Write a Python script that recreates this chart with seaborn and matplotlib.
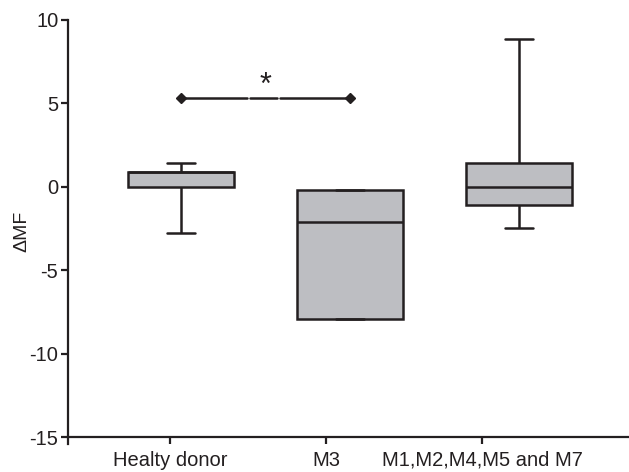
import seaborn as sns
import pandas as pd
import matplotlib.pyplot as plt

# group labels and the five-number values (min, q1, median, q3, max)
groups = ["Healty donor", "M3", "M1,M2,M4,M5 and M7"]
healthy = [-2.75, 0.0, 0.9, 0.9, 1.45]
m3 = [-7.9, -7.9, -2.1, -0.2, -0.2]
others = [-2.5, -1.1, 0.0, 1.45, 8.85]
yticks = [-15, -10, -5, 0, 5, 10]
bracket_y = 5.35

df = pd.DataFrame({
    "group": [groups[0]] * len(healthy) + [groups[1]] * len(m3) + [groups[2]] * len(others),
    "dmf": healthy + m3 + others,
})

sns.set_style("ticks")
plt.rcParams["font.family"] = ["Liberation Sans", "DejaVu Sans"]
plt.rcParams["axes.unicode_minus"] = False
ink = "#231F20"

fig = plt.figure(figsize=(6.29, 4.72), dpi=100)
ax = fig.add_axes([68 / 629, 0.06, 1 - 68 / 629, 0.8977])

sns.boxplot(data=df, x="group", y="dmf", order=groups, whis=(0, 100),
            width=0.63, color="#BDBEC2", linecolor=ink, linewidth=1.8,
            saturation=1, showfliers=False, capwidths=0.17, ax=ax)

# significance bracket between the first two groups
x0, x1 = 0, 1
mid = (x0 + x1) / 2
ax.plot([x0, mid - 0.11], [bracket_y, bracket_y], color=ink, lw=1.8)
ax.plot([mid - 0.095, mid + 0.07], [bracket_y, bracket_y], color=ink, lw=1.8)
ax.plot([mid + 0.085, x1], [bracket_y, bracket_y], color=ink, lw=1.8)
ax.plot([x0, x1], [bracket_y, bracket_y], ls="none", marker="D", ms=5, color=ink)
ax.text(mid, bracket_y - 0.2, "*", ha="center", va="bottom", fontsize=22, color=ink)

ax.set_xlim(-0.669, 2.65)
ax.set_ylim(-15.4, 10)
ax.set_yticks(yticks)
ax.set_xticks([-0.065, 0.858, 1.78], labels=groups)
sns.despine(ax=ax)
ax.spines["bottom"].set_position(("data", -15))
ax.spines["left"].set_bounds(-15.4, 10)
for side in ["left", "bottom"]:
    ax.spines[side].set_color(ink)
    ax.spines[side].set_linewidth(1.6)
ax.tick_params(axis="both", length=5, width=1.6, color=ink, labelsize=14.5, labelcolor=ink)
ax.tick_params(axis="x", pad=5)
ax.tick_params(axis="y", pad=2)
ax.set_xlabel("")
ax.set_ylabel("ΔMF", fontsize=14, color=ink, labelpad=-0.5)

fig.savefig("out.png", dpi=100)
